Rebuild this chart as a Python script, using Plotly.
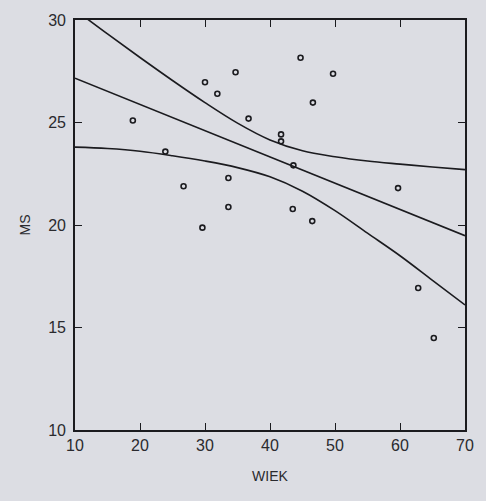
import plotly.graph_objects as go

# scatter data (WIEK, MS)
wiek = [34.7, 30.0, 31.9, 36.7, 18.9, 23.9, 33.6, 26.7, 33.6, 29.6,
        44.7, 49.7, 46.6, 41.7, 41.7, 43.6, 59.7, 43.5, 46.5, 62.8, 65.2]
ms = [27.45, 26.96, 26.4, 25.19, 25.1, 23.58, 22.29, 21.89, 20.88, 19.87,
      28.16, 27.38, 25.97, 24.42, 24.08, 22.91, 21.8, 20.78, 20.19, 16.93, 14.49]

# regression line (read at ends)
line_x = [10, 70]
line_y = [27.16, 19.48]

# confidence band
band_x = [10, 15, 20, 25, 30, 35, 40, 45, 50, 55, 60, 65, 70]
band_upper = [30.5, 29.32, 28.17, 27.05, 25.97, 24.97, 24.15, 23.62, 23.33, 23.12, 22.97, 22.83, 22.7]
band_lower = [23.8, 23.73, 23.6, 23.38, 23.12, 22.8, 22.35, 21.65, 20.7, 19.6, 18.5, 17.3, 16.1]

x_ticks = [10, 20, 30, 40, 50, 60, 70]
y_ticks = [10, 15, 20, 25, 30]

ink = "#1b1b1f"
paper = "#dcdde3"

fig = go.Figure()
for yy in (band_upper, band_lower):
    fig.add_trace(go.Scatter(x=band_x, y=yy, mode="lines", line=dict(color=ink, width=1.6, shape="spline"),
                             hoverinfo="skip", showlegend=False))
fig.add_trace(go.Scatter(x=line_x, y=line_y, mode="lines", line=dict(color=ink, width=1.6),
                         showlegend=False))
fig.add_trace(go.Scatter(x=wiek, y=ms, mode="markers",
                         marker=dict(symbol="circle-open", size=5, color=ink, line=dict(width=1.6, color=ink)),
                         showlegend=False))

fig.update_layout(
    width=486, height=501,
    margin=dict(l=75, r=12, t=20, b=71),
    paper_bgcolor=paper, plot_bgcolor=paper,
    font=dict(family="Liberation Sans, Arial, sans-serif", size=16, color="#2a2a2e"),
)
fig.update_xaxes(range=[10, 70], tickvals=x_ticks, ticks="inside", ticklen=7, tickwidth=1.3, tickcolor=ink,
                 showline=True, linecolor=ink, linewidth=1.6, mirror="ticks", showgrid=False, zeroline=False,
                 title=dict(text="WIEK", font=dict(size=14), standoff=18))
fig.update_yaxes(range=[10, 30], tickvals=y_ticks, ticks="inside", ticklen=7, tickwidth=1.3, tickcolor=ink,
                 showline=True, linecolor=ink, linewidth=1.6, mirror="ticks", showgrid=False, zeroline=False,
                 ticklabelstandoff=4,
                 title=dict(text="MS", font=dict(size=14), standoff=14))

fig.write_html("out.html")
